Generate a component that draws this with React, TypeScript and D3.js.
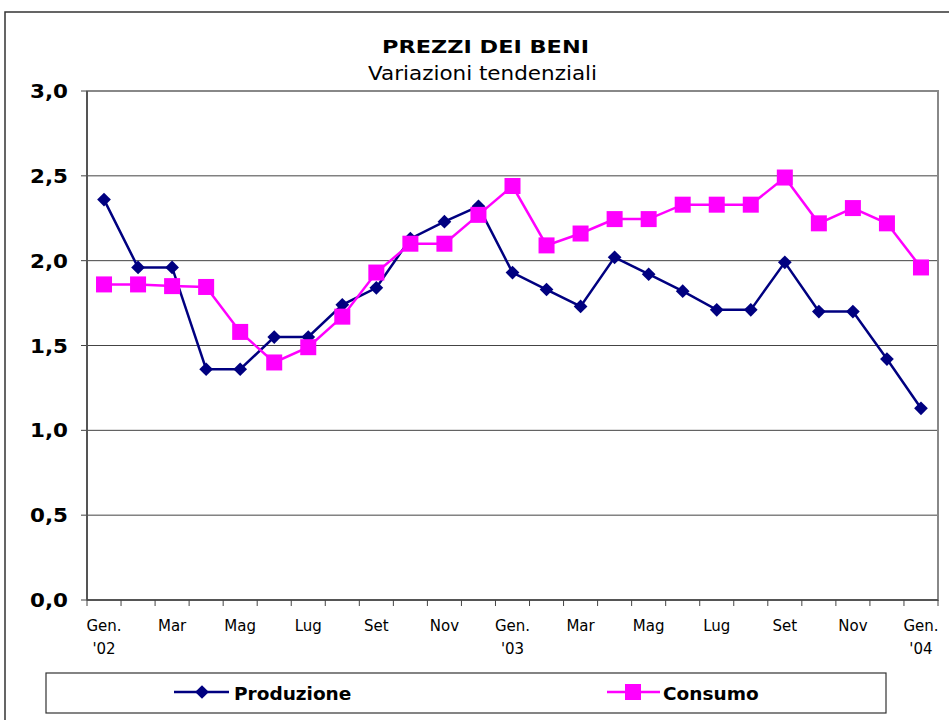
import React from "react";
import * as d3 from "d3";

const months = ["Gen. '02","Feb","Mar","Apr","Mag","Giu","Lug","Ago","Set","Ott","Nov","Dic","Gen. '03","Feb","Mar","Apr","Mag","Giu","Lug","Ago","Set","Ott","Nov","Dic","Gen. '04"];
const produzione = [2.36,1.96,1.96,1.36,1.36,1.55,1.55,1.74,1.84,2.13,2.23,2.32,1.93,1.83,1.73,2.02,1.92,1.82,1.71,1.71,1.99,1.70,1.70,1.42,1.13];
const consumo = [1.86,1.86,1.85,1.845,1.58,1.40,1.49,1.67,1.93,2.10,2.10,2.27,2.44,2.09,2.16,2.245,2.245,2.33,2.33,2.33,2.49,2.22,2.31,2.22,1.96];
const xLabels: [string, string][] = [["Gen.","'02"],["Mar",""],["Mag",""],["Lug",""],["Set",""],["Nov",""],["Gen.","'03"],["Mar",""],["Mag",""],["Lug",""],["Set",""],["Nov",""],["Gen.","'04"]];
const yTicks = [0,0.5,1,1.5,2,2.5,3];

const W = 949, H = 720;
const L = 87, R = 938, T = 91, B = 600;
const font = "Verdana, 'DejaVu Sans', sans-serif";

export default function App() {
  const x = d3.scaleBand<number>().domain(d3.range(months.length)).range([L, R]).padding(0);
  const cx = (i: number) => (x(i) as number) + x.bandwidth() / 2;
  const y = d3.scaleLinear().domain([0, 3]).range([B, T]);
  const line = d3.line<number>().x((_, i) => cx(i)).y(d => y(d));
  const fmt = (v: number) => v.toFixed(1).replace(".", ",");
  const diamond = d3.symbol().type(d3.symbolDiamond2).size(120)() as string;

  return (
    <svg width={W} height={H} style={{ position: "absolute", left: 0, top: 0, background: "#fff" }} fontFamily={font}>
      <rect x={5} y={12} width={1000} height={800} fill="none" stroke="#333" strokeWidth={1.5} />
      <text x={382} y={53} fontSize={18.5} fontWeight="bold" textLength={207} lengthAdjust="spacingAndGlyphs">PREZZI DEI BENI</text>
      <text x={368} y={80} fontSize={19.5} textLength={229} lengthAdjust="spacingAndGlyphs">Variazioni tendenziali</text>

      {yTicks.map(t => (
        <g key={t}>
          {t > 0 && t < 3 && <line x1={L} x2={R} y1={y(t)} y2={y(t)} stroke="#444" strokeWidth={1} />}
          <line x1={L - 6} x2={L} y1={y(t)} y2={y(t)} stroke="#444" />
          <text x={30} y={y(t) + 7} fontSize={20} fontWeight="bold" textLength={38} lengthAdjust="spacingAndGlyphs">{fmt(t)}</text>
        </g>
      ))}
      <rect x={L} y={T} width={R - L} height={B - T} fill="none" stroke="#888" strokeWidth={2} />
      <line x1={L} x2={L} y1={T} y2={B} stroke="#555" strokeWidth={2} />
      <line x1={L} x2={R} y1={B} y2={B} stroke="#444" strokeWidth={1.5} />
      {d3.range(months.length + 1).map(k => {
        const xx = L + k * x.bandwidth();
        return <line key={k} x1={xx} x2={xx} y1={B} y2={B + 6} stroke="#444" />;
      })}
      {xLabels.map((lb, j) => (
        <g key={j}>
          <text x={cx(j * 2)} y={631} textAnchor="middle" fontSize={15}>{lb[0]}</text>
          {lb[1] && <text x={cx(j * 2)} y={654} textAnchor="middle" fontSize={15}>{lb[1]}</text>}
        </g>
      ))}

      <path d={line(produzione) as string} fill="none" stroke="#000080" strokeWidth={2.5} />
      {produzione.map((v, i) => (
        <path key={i} d={diamond} transform={`translate(${cx(i)},${y(v)})`} fill="#000080" />
      ))}
      <path d={line(consumo) as string} fill="none" stroke="#FF00FF" strokeWidth={2.5} />
      {consumo.map((v, i) => (
        <rect key={i} x={cx(i) - 8} y={y(v) - 8} width={16} height={16} fill="#FF00FF" />
      ))}

      <rect x={46} y={673} width={840} height={40} fill="#fff" stroke="#333" strokeWidth={1.2} />
      <line x1={174} x2={229} y1={692} y2={692} stroke="#000080" strokeWidth={2.5} />
      <path d={diamond} transform="translate(202,692)" fill="#000080" />
      <text x={234} y={700} fontSize={18.5} fontWeight="bold">Produzione</text>
      <line x1={607} x2={660} y1={692} y2={692} stroke="#FF00FF" strokeWidth={2.5} />
      <rect x={625} y={684} width={16} height={16} fill="#FF00FF" />
      <text x={663} y={700} fontSize={18.5} fontWeight="bold">Consumo</text>
    </svg>
  );
}
